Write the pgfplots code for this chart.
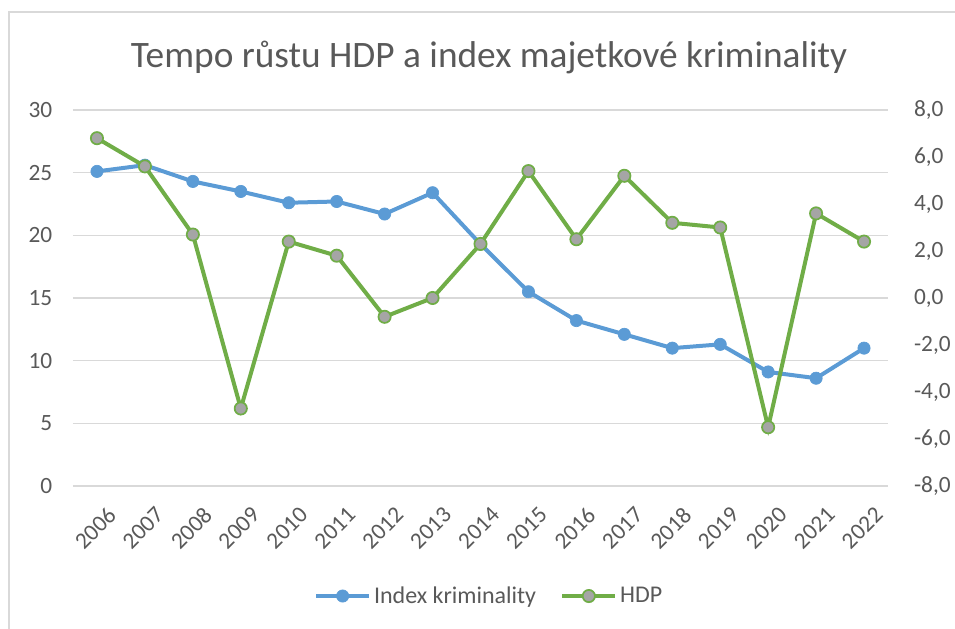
\documentclass[border=0pt]{standalone}
\usepackage{fontspec}
\setmainfont{Carlito}
\usepackage{pgfplots}
\pgfplotsset{compat=1.18}
\definecolor{txt}{HTML}{595959}
\definecolor{gridgray}{HTML}{D9D9D9}
\definecolor{idxblue}{HTML}{5B9BD5}
\definecolor{hdpgreen}{HTML}{70AD47}
\definecolor{mkgray}{HTML}{A5A5A5}

\begin{document}
\begin{tikzpicture}
  \useasboundingbox (0pt,0pt) rectangle (716.25pt,471pt);
  \draw[gridgray, line width=1pt] (6.75pt,-20pt) rectangle (740pt,462pt);
  \node[text=txt, font=\fontsize{28}{33}\selectfont] at (366.75pt,428pt)
    {Tempo růstu HDP a index majetkové kriminality};

  \pgfplotsset{
    common/.style={
      at={(54.75pt,106.5pt)}, anchor=south west,
      width=611.25pt, height=282pt, scale only axis,
      xmin=-0.5, xmax=16.5, enlargelimits=false,
      major tick length=0pt,
      xmajorgrids=false,
      ticklabel style={font=\fontsize{17.5}{21}\selectfont, text=txt},
      /pgf/number format/assume math mode=true,
    }
  }

  \begin{axis}[common,
      axis y line*=left, axis x line*=bottom,
      axis line style={draw=none},
      ymin=0, ymax=30, ytick={0,5,...,30},
      ymajorgrids, y grid style={draw=gridgray, line width=1.1pt},
      yticklabel style={xshift=-12pt},
      xtick={0,...,16},
      xticklabels={2006,2007,2008,2009,2010,2011,2012,2013,2014,2015,2016,2017,2018,2019,2020,2021,2022},
      xticklabel style={rotate=45, anchor=north east, xshift=-2pt, yshift=-12pt},
    ]
    \addplot[idxblue, line width=3pt, mark=*, mark size=4.6pt,
      mark options={fill=idxblue, draw=idxblue, line width=0.5pt}]
      coordinates {
      (0,25.1) (1,25.6) (2,24.3) (3,23.5) (4,22.6) (5,22.7) (6,21.7)
      (7,23.4) (8,19.3) (9,15.5) (10,13.2) (11,12.1) (12,11.0) (13,11.3)
      (14,9.1) (15,8.6) (16,11.0)
    };
  \end{axis}

  \begin{axis}[common,
      axis y line*=right, axis x line=none,
      axis line style={draw=none},
      ymin=-8, ymax=8, ytick={-8,-6,...,8},
      yticklabel style={xshift=16pt, /pgf/number format/.cd, fixed, fixed zerofill, precision=1, use comma},
      legend columns=2,
      legend style={at={(0.511,-0.2926)}, anchor=center, draw=none, fill=none,
        font=\fontsize{18}{22}\selectfont, text=txt,
        /tikz/every even column/.append style={column sep=16pt}},
      legend image code/.code={
        \draw[mark repeat=2, mark phase=2, #1] plot coordinates {(0pt,0pt) (20pt,0pt) (40pt,0pt)};
      },
    ]
    \addlegendimage{idxblue, line width=3pt, mark=*, mark size=4.6pt,
      mark options={fill=idxblue, draw=idxblue, line width=0.5pt}}
    \addlegendentry{Index kriminality}
    \addplot[hdpgreen, line width=3pt, mark=*, mark size=4.6pt,
      mark options={fill=mkgray, draw=hdpgreen, line width=1.3pt}]
      coordinates {
      (0,6.8) (1,5.6) (2,2.7) (3,-4.7) (4,2.4) (5,1.8) (6,-0.8)
      (7,0.0) (8,2.3) (9,5.4) (10,2.5) (11,5.2) (12,3.2) (13,3.0)
      (14,-5.5) (15,3.6) (16,2.4)
    };
    \addlegendentry{HDP}
  \end{axis}
\end{tikzpicture}
\end{document}
